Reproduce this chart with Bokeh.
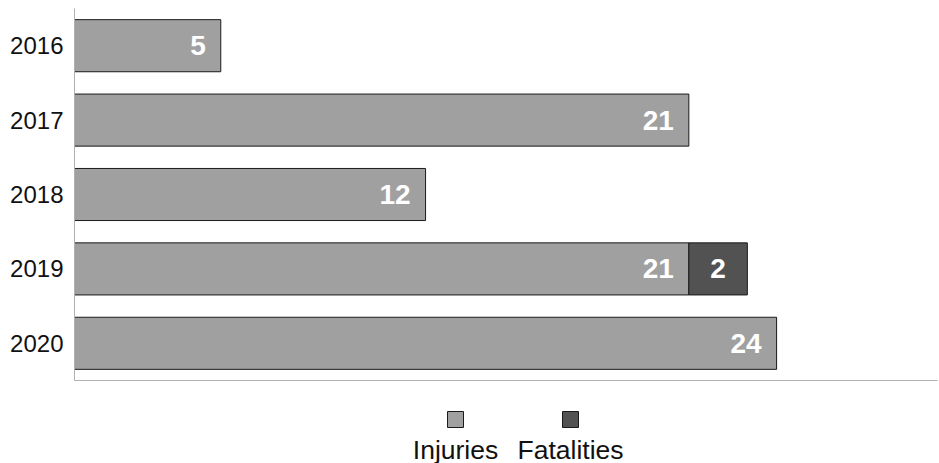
from bokeh.plotting import figure
from bokeh.models import ColumnDataSource, FactorRange, Range1d, FixedTicker
from bokeh.layouts import column
from bokeh.core.properties import value
from bokeh.embed import file_html
from bokeh.resources import INLINE

years = ["2016", "2017", "2018", "2019", "2020"]
injuries = [5, 21, 12, 21, 24]
fatalities = [0, 0, 0, 2, 0]
series = ["Injuries", "Fatalities"]
colors = ["#a0a0a0", "#525252"]

FONT = "Liberation Sans"

src = ColumnDataSource(dict(
    year=years,
    inj=injuries,
    inj_lbl=[str(v) for v in injuries],
))

W = 939
BL, BR = 74, 2
p = figure(width=W, height=388, output_backend="svg", toolbar_location=None,
           y_range=FactorRange(factors=years[::-1], range_padding=0),
           x_range=Range1d(0, 29.5),
           min_border_left=BL, min_border_right=BR, min_border_top=8, min_border_bottom=8)
p.outline_line_color = None
p.xgrid.grid_line_color = None
p.ygrid.grid_line_color = None
p.background_fill_color = "white"
p.border_fill_color = "white"

p.hbar(y="year", left=0, right="inj", height=0.7, source=src,
       fill_color=colors[0], line_color="#1a1a1a", line_width=1)
fsrc = ColumnDataSource(dict(
    year=[y for y, f in zip(years, fatalities) if f],
    left=[a for a, f in zip(injuries, fatalities) if f],
    right=[a + f for a, f in zip(injuries, fatalities) if f],
    mid=[a + f / 2 for a, f in zip(injuries, fatalities) if f],
    lbl=[str(f) for f in fatalities if f],
))
p.hbar(y="year", left="left", right="right", height=0.7, source=fsrc,
       fill_color=colors[1], line_color="#1a1a1a", line_width=1)

p.text(x="inj", y="year", text="inj_lbl", source=src, x_offset=-15,
       text_align="right", text_baseline="middle", text_color="white",
       text_font=value(FONT), text_font_style="bold", text_font_size="28px")
p.text(x="mid", y="year", text="lbl", source=fsrc,
       text_align="center", text_baseline="middle", text_color="white",
       text_font=value(FONT), text_font_style="bold", text_font_size="28px")

ax = p.yaxis[0]
ax.axis_line_color = "#b0b0b0"
ax.axis_line_width = 1
ax.major_tick_line_color = None
ax.minor_tick_line_color = None
ax.major_tick_out = 0
ax.major_label_standoff = 11
ax.major_label_text_font = FONT
ax.major_label_text_font_size = "24px"
ax.major_label_text_color = "#111111"

xa = p.xaxis[0]
xa.ticker = FixedTicker(ticks=[])
xa.axis_line_color = "#b0b0b0"
xa.axis_line_width = 1
xa.major_tick_line_color = None
xa.minor_tick_line_color = None
xa.major_tick_out = 0
xa.minor_tick_out = 0
xa.major_label_standoff = 0
xa.major_label_text_font_size = "0px"

# legend figure (square above its label); coordinates in page pixels
LH = 75
lg = figure(width=W, height=LH, output_backend="svg", toolbar_location=None,
            x_range=Range1d(BL, W - BR), y_range=Range1d(0, LH),
            min_border_left=BL, min_border_right=BR, min_border_top=0, min_border_bottom=0)
lg.axis.visible = False
lg.grid.visible = False
lg.outline_line_color = None
lg.background_fill_color = "white"
lg.border_fill_color = "white"
centers = [455, 570]
lsrc = ColumnDataSource(dict(x=centers, name=series, color=colors))
lg.scatter(x="x", y=44, source=lsrc, marker="square", size=16,
           fill_color="color", line_color="#1a1a1a", line_width=1)
lg.text(x="x", y=14, text="name", source=lsrc, text_align="center",
        text_baseline="alphabetic", text_font=value(FONT),
        text_font_size="26.5px", text_color="#111111")

layout = column(p, lg, spacing=0)
open("out.html", "w").write(file_html(layout, INLINE))
